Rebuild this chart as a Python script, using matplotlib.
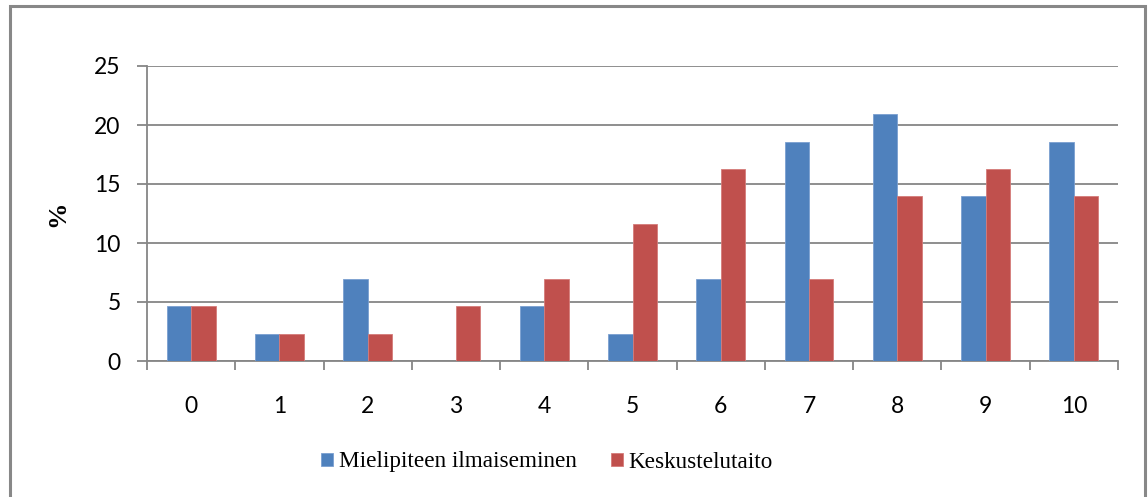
import numpy as np
import matplotlib.pyplot as plt
from matplotlib.patches import Rectangle
from matplotlib.ticker import FixedLocator, NullFormatter

# arvosanat 0-10, osuudet prosentteina
categories = ['0', '1', '2', '3', '4', '5', '6', '7', '8', '9', '10']
mielipide = [4.65, 2.33, 6.98, 0.0, 4.65, 2.33, 6.98, 18.60, 20.93, 13.95, 18.60]
keskustelu = [4.65, 2.33, 2.33, 4.65, 6.98, 11.63, 16.28, 6.98, 13.95, 16.28, 13.95]
series_names = ['Mielipiteen ilmaiseminen', 'Keskustelutaito']
yticks = [0, 5, 10, 15, 20, 25]

W, H = 1148, 497
fig = plt.figure(figsize=(W / 100, H / 100), dpi=100)
ax = fig.add_axes([147 / W, 1 - 361 / H, (1118 - 147) / W, (361 - 66) / H])

grid_c = '#868686'
blue = '#4F81BD'
red = '#C0504D'
bw = 0.277
x = np.arange(len(categories))

b1 = ax.bar(x - bw / 2, mielipide, bw, color=blue, edgecolor='#7a9fd0', linewidth=0.6,
            label=series_names[0], zorder=3)
b2 = ax.bar(x + bw / 2, keskustelu, bw, color=red, edgecolor='#d57b79', linewidth=0.6,
            label=series_names[1], zorder=3)

ax.set_xlim(-0.5, len(categories) - 0.5)
ax.set_ylim(0, 25)
ax.set_yticks(yticks)
ax.set_yticklabels([str(t) for t in yticks])
ax.yaxis.grid(True, color=grid_c, linewidth=1.3, zorder=0)

# tick marks on category boundaries, labels in the middle
ax.xaxis.set_major_locator(FixedLocator(np.arange(-0.5, len(categories), 1.0)))
ax.xaxis.set_major_formatter(NullFormatter())
ax.xaxis.set_minor_locator(FixedLocator(x))
ax.set_xticklabels(categories, minor=True)

for s in ['top', 'right']:
    ax.spines[s].set_visible(False)
for s in ['left', 'bottom']:
    ax.spines[s].set_color(grid_c)
    ax.spines[s].set_linewidth(1.3)

ax.tick_params(axis='y', which='major', length=7, width=1.3, color=grid_c, pad=12,
               labelsize=16.5, labelcolor='#000000')
ax.tick_params(axis='x', which='major', length=6.5, width=1.3, color=grid_c, direction='out')
ax.tick_params(axis='x', which='minor', length=0, pad=25, labelsize=16.5)
for lab in ax.get_yticklabels() + ax.get_xticklabels(minor=True):
    lab.set_family('Lato')

fig.text(58 / W, 1 - 214 / H, '%', rotation=90, ha='center', va='center',
         family='Liberation Serif', fontweight='bold', fontsize=19)

leg = fig.legend(handles=[b1, b2], labels=series_names, loc='center',
                 bbox_to_anchor=(547 / W, 1 - 462 / H), ncol=2, frameon=False,
                 prop={'family': 'Liberation Serif', 'size': 16.7},
                 handlelength=0.52, handleheight=0.52, handletextpad=0.22, columnspacing=1.5)

# outer frame of the chart
fig.add_artist(Rectangle((10 / W, -0.05), 1135 / W, 1 - 6 / H + 0.05, transform=fig.transFigure,
                         fill=False, edgecolor='#888888', linewidth=2.2))

fig.savefig('out.png', dpi=100)
